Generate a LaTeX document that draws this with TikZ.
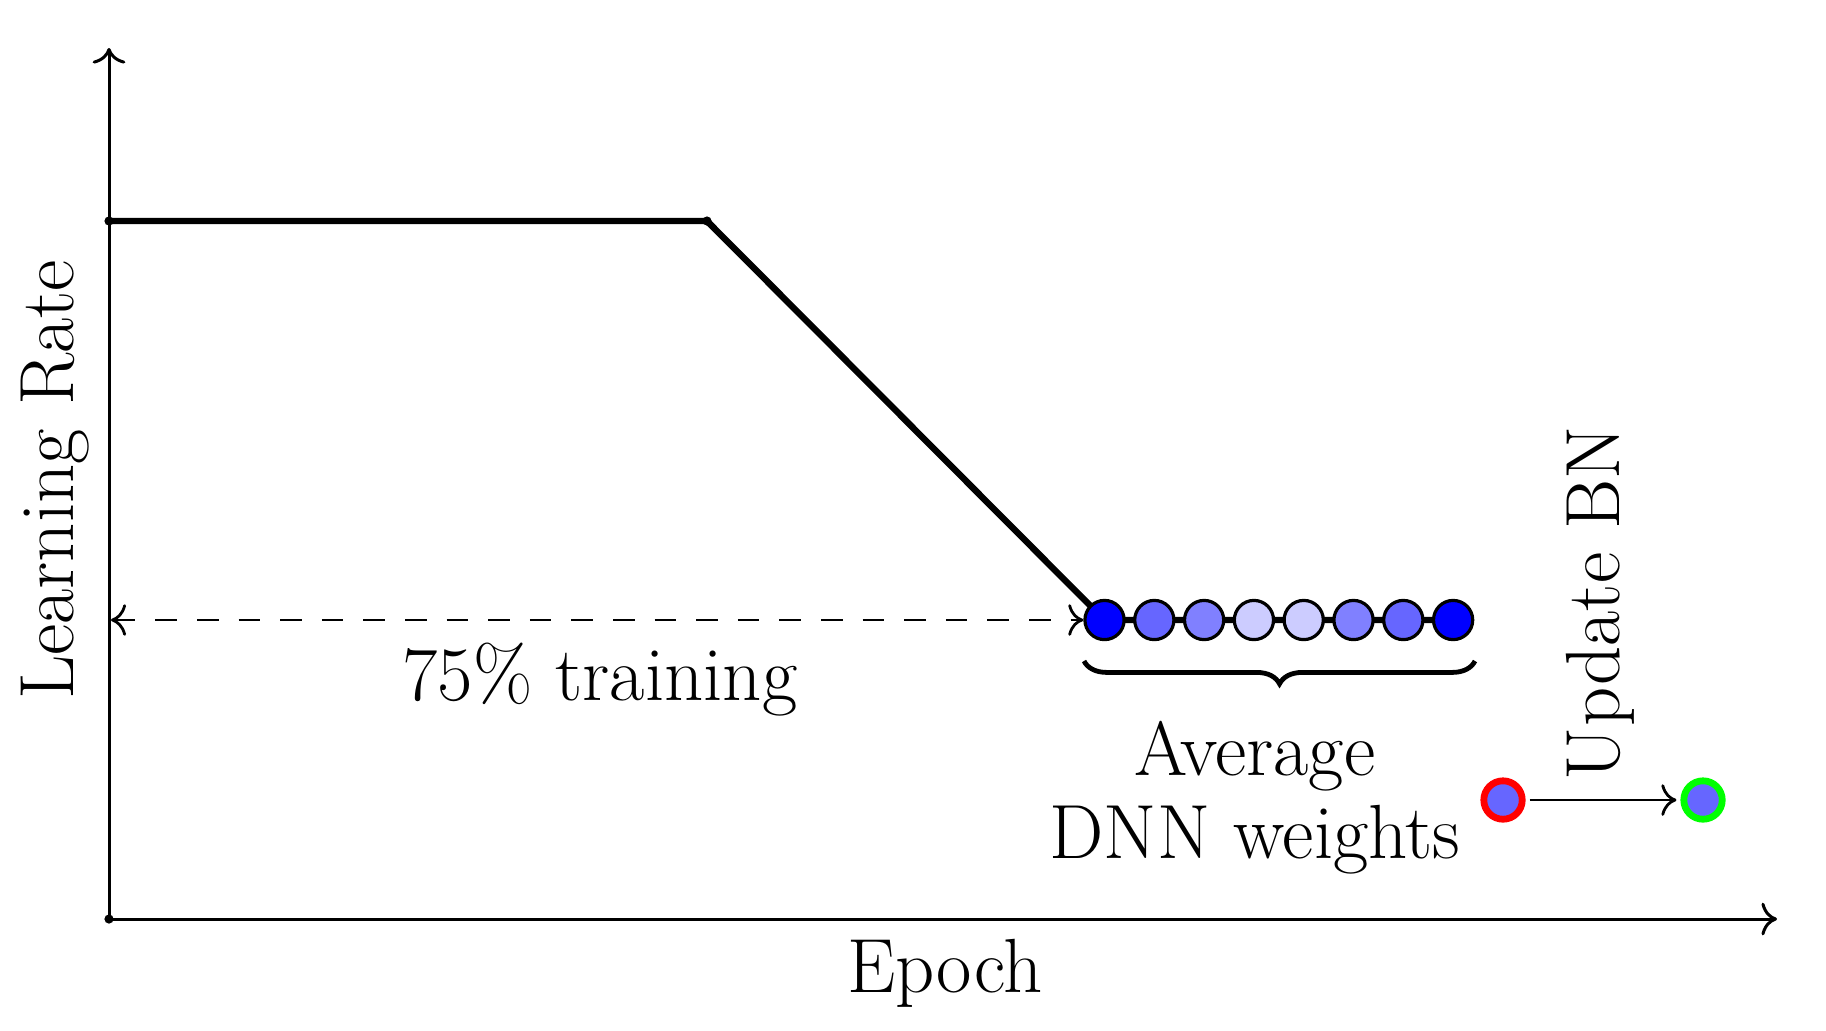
\documentclass[tikz,border=0pt]{standalone}
\usetikzlibrary{decorations.pathreplacing,backgrounds,arrows.meta}
\begin{document}
\begin{tikzpicture}[x=0.25pt,y=-0.25pt,
 >={To[scale=1.2]},
 axis/.style={line width=0.75pt,->},
 lr/.style={line width=1.6pt},
 wt/.style={circle,draw=black,line width=0.8pt,minimum size=9.8pt,inner sep=0pt},
 bn/.style={circle,line width=1.7pt,fill=blue!60,minimum size=9.6pt,inner sep=0pt},
 lbl/.style={font=\fontsize{19.2}{20.75}\selectfont}]
\useasboundingbox (0,0) rectangle (1826,1030);
\coordinate (O) at (109,919);
\coordinate (XE) at (1777,919);
\coordinate (YE) at (109,48);
\draw[axis] (O) -- (XE);
\draw[axis] (O) -- (YE);
\fill (O) circle (1.15pt);
\coordinate (P0) at (109,221);
\coordinate (P1) at (707,221);
\foreach \c [count=\k from 0] in {blue,blue!60,blue!50,blue!20,blue!20,blue!50,blue!60,blue}
  \node[wt,fill=\c] (c\the\numexpr\k+1\relax) at ({1104.5+49.8*\k},620) {};
\begin{pgfonlayer}{background}
\draw[lr] (P0) -- (P1) -- (c1.center) -- (c8.center);
\end{pgfonlayer}
\fill (P0) circle (1.15pt);
\fill (P1) circle (1.15pt);
\coordinate (DL) at (111,620);
\draw[<->,line width=0.7pt,dash pattern=on 5.4pt off 5pt] (DL) -- (c1);
\coordinate (B1) at (1084,661);
\coordinate (B2) at (1475,661);
\draw[decorate,decoration={brace,mirror,amplitude=5.7pt},line width=1.2pt] (B1) -- (B2);
\node[bn,draw=red] (r) at (1503,800) {};
\node[bn,draw=green] (g) at (1703,800) {};
\draw[->,line width=0.7pt,shorten <=1pt,shorten >=1pt] (r) -- (g);
\node[lbl,anchor=base] (tr) at (600,700) {75\% training};
\node[lbl,align=center] (avg) at (1255,798) {Average\\DNN weights};
\node[lbl,anchor=base] (ep) at (945,992) {Epoch};
\node[lbl,anchor=base,rotate=90] (lrt) at (73,480) {Learning Rate};
\node[lbl,anchor=base,rotate=90] (ubn) at (1619,603) {Update BN};
\end{tikzpicture}
\end{document}
